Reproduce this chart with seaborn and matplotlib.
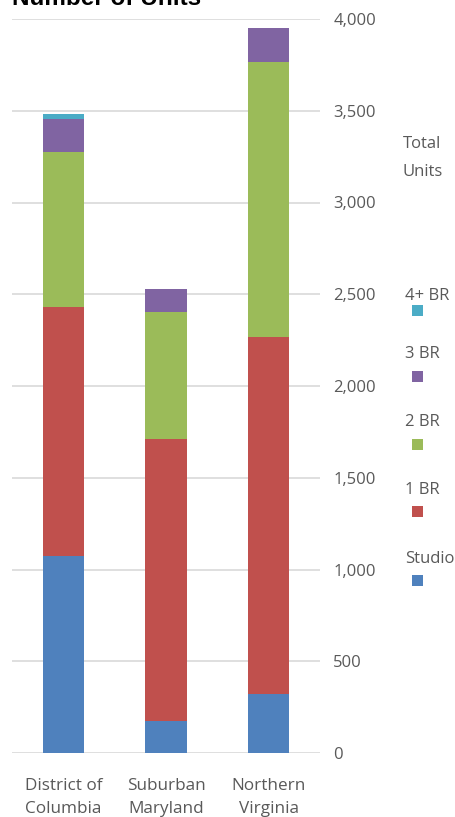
import numpy as np
import pandas as pd
import matplotlib
matplotlib.use("Agg")
import matplotlib.pyplot as plt
from matplotlib.patches import Rectangle
import seaborn as sns

regions = ["District of\nColumbia", "Suburban\nMaryland", "Northern\nVirginia"]
unit_types = ["Studio", "1 BR", "2 BR", "3 BR", "4+ BR"]
studio = [1073, 174, 321]
br1 = [1356, 1537, 1944]
br2 = [848, 694, 1503]
br3 = [176, 124, 183]
br4 = [27, 0, 0]
colors = ["#4F81BD", "#C0504D", "#9BBB59", "#8064A2", "#4BACC6"]
yticks = [0, 500, 1000, 1500, 2000, 2500, 3000, 3500, 4000]
ytick_labels = ["0", "500", "1,000", "1,500", "2,000", "2,500", "3,000", "3,500", "4,000"]

sns.set_theme(style="white")
plt.rcParams["font.family"] = ["Open Sans", "DejaVu Sans"]

W, H = 456, 817
fig = plt.figure(figsize=(W / 100, H / 100), dpi=100)
ax = fig.add_axes([12 / W, (H - 753) / H, (320 - 12) / W, (753 - 19) / H])

series = [studio, br1, br2, br3, br4]
cum = np.cumsum(np.array(series), axis=0)
# draw from top layer down so lower layers overlay
for i in range(len(series) - 1, -1, -1):
    df = pd.DataFrame({"region": regions, "value": cum[i]})
    sns.barplot(data=df, x="region", y="value", color=colors[i], width=0.4,
                saturation=1, ax=ax, edgecolor="none", linewidth=0, zorder=3)

ax.set_ylim(0, 4000)
ax.set_xlim(-0.5, 2.5)
ax.set_yticks(yticks)
ax.set_yticklabels(ytick_labels)
ax.yaxis.tick_right()
ax.grid(axis="y", color="#D9D9D9", linewidth=1.2, zorder=0)
ax.set_axisbelow(True)
for s in ax.spines.values():
    s.set_visible(False)
ax.set_xlabel("")
ax.set_ylabel("")
ax.tick_params(axis="y", length=0, pad=9.5, labelsize=12, labelcolor="#595959")
ax.tick_params(axis="x", length=0, pad=18, labelsize=12.3, labelcolor="#595959")
for lab in ax.get_xticklabels():
    lab.set_linespacing(1.55)

fig.text(12 / W, 1 - 4.7 / H, "Number of Units", fontsize=17.5, fontweight="bold",
         family=["Liberation Sans", "DejaVu Sans"], color="#000000", va="baseline", ha="left")

fig.text(403 / W, 1 - 158 / H, "Total\nUnits", fontsize=12, color="#595959",
         va="center", ha="left", linespacing=1.95)

label_y = [559, 490, 422, 354, 296]
marker_y = [580, 511.7, 444, 376.7, 310]
for name, c, ly, my in zip(unit_types, colors, label_y, marker_y):
    fig.text(405 / W, 1 - ly / H, name, fontsize=12, color="#595959", va="center", ha="left")
    sz = 11
    fig.add_artist(Rectangle(((417.5 - sz / 2) / W, 1 - (my + sz / 2) / H), sz / W, sz / H,
                             transform=fig.transFigure, facecolor=c, edgecolor="none"))

fig.savefig("out.png", dpi=100)
